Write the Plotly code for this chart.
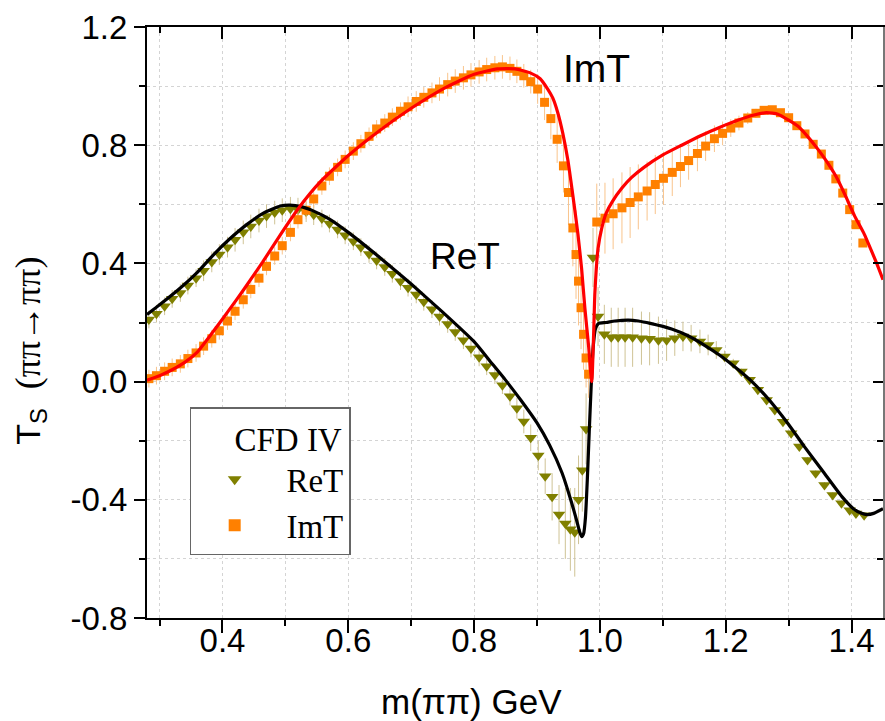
import plotly.graph_objects as go

# ---- fit curves ----
re_fit_x = [0.28, 0.30, 0.333, 0.36, 0.386, 0.41, 0.439, 0.465, 0.492, 0.507, 0.525, 0.545, 0.57, 0.60,
            0.65, 0.70, 0.75, 0.80, 0.825, 0.85, 0.875, 0.90, 0.92, 0.94, 0.955, 0.963, 0.968, 0.971,
            0.974, 0.977, 0.980, 0.983, 0.986, 0.989, 0.993, 0.998, 1.01, 1.024,
            1.045, 1.061, 1.08, 1.114, 1.14, 1.167, 1.19, 1.22, 1.24, 1.262, 1.28, 1.30, 1.325, 1.355,
            1.385, 1.403, 1.415, 1.425, 1.435, 1.45]
re_fit_y = [0.227, 0.26, 0.317, 0.37, 0.43, 0.48, 0.532, 0.57, 0.594, 0.597, 0.592, 0.577, 0.55, 0.505,
            0.42, 0.33, 0.235, 0.135, 0.07, 0.005, -0.065, -0.14, -0.215, -0.31, -0.41, -0.47, -0.51, -0.525,
            -0.515, -0.46, -0.33, -0.17, -0.02, 0.11, 0.18, 0.197, 0.2, 0.205,
            0.208, 0.205, 0.197, 0.178, 0.155, 0.122, 0.09, 0.04, 0.003, -0.045, -0.09, -0.145, -0.22, -0.305,
            -0.39, -0.43, -0.445, -0.45, -0.446, -0.43]

im_fit_x = [0.28, 0.30, 0.32, 0.34, 0.36, 0.382, 0.408, 0.435, 0.464, 0.493, 0.522, 0.555, 0.60, 0.65,
            0.70, 0.75, 0.80, 0.837, 0.865, 0.89, 0.905, 0.917, 0.925, 0.933, 0.941, 0.949, 0.957, 0.965,
            0.971, 0.976, 0.982, 0.987, 0.990, 0.992, 0.997, 1.003, 1.01, 1.02, 1.035, 1.05, 1.07,
            1.10, 1.13, 1.16, 1.19, 1.22, 1.245, 1.265, 1.283, 1.30, 1.315, 1.33, 1.347, 1.362,
            1.378, 1.39, 1.405, 1.42, 1.431, 1.44, 1.45]
im_fit_y = [0.005, 0.02, 0.04, 0.065, 0.10, 0.16, 0.235, 0.315, 0.405, 0.50, 0.59, 0.675, 0.765, 0.85,
            0.925, 0.99, 1.04, 1.058, 1.058, 1.044, 1.025, 0.99, 0.96, 0.91, 0.84, 0.75, 0.63, 0.5,
            0.38, 0.25, 0.12, 0.0, 0.16, 0.30, 0.45, 0.52, 0.57, 0.61, 0.655, 0.69, 0.725,
            0.767, 0.80, 0.832, 0.86, 0.885, 0.902, 0.91, 0.905, 0.885, 0.864, 0.83, 0.785, 0.74,
            0.684, 0.63, 0.56, 0.50, 0.446, 0.40, 0.345]

# ---- CFD IV data points ----
re_x = [0.283, 0.295, 0.308, 0.32, 0.333, 0.345, 0.358, 0.37, 0.383, 0.395, 0.408, 0.42, 0.433, 0.445,
        0.458, 0.47, 0.483, 0.495, 0.508, 0.52, 0.533, 0.545, 0.558, 0.57, 0.583, 0.595, 0.608, 0.62,
        0.633, 0.645, 0.658, 0.67, 0.683, 0.695, 0.708, 0.72, 0.733, 0.745, 0.758, 0.77, 0.783, 0.795,
        0.808, 0.82, 0.833, 0.845, 0.857, 0.868, 0.879, 0.890, 0.902, 0.913, 0.924, 0.935, 0.945,
        0.953, 0.96, 0.966, 0.972, 0.978, 0.989, 0.997, 1.007, 1.018, 1.029, 1.04, 1.052, 1.066,
        1.079, 1.093, 1.106, 1.119, 1.132, 1.145, 1.159, 1.172, 1.185, 1.198, 1.212, 1.225, 1.238,
        1.251, 1.265, 1.278, 1.291, 1.304, 1.317, 1.33, 1.343, 1.357, 1.37, 1.384, 1.397, 1.407, 1.42]
re_y = [0.21, 0.23, 0.255, 0.28, 0.30, 0.325, 0.35, 0.375, 0.405, 0.43, 0.455, 0.48, 0.505, 0.525,
        0.545, 0.56, 0.572, 0.58, 0.585, 0.582, 0.575, 0.565, 0.552, 0.535, 0.515, 0.495, 0.475, 0.455,
        0.432, 0.41, 0.388, 0.365, 0.34, 0.318, 0.295, 0.27, 0.245, 0.22, 0.195, 0.168, 0.14, 0.112,
        0.082, 0.052, 0.022, -0.012, -0.05, -0.09, -0.135, -0.19, -0.25, -0.32, -0.39, -0.45, -0.48,
        -0.50, -0.51, -0.40, -0.30, -0.16, 0.42, 0.22, 0.16, 0.15, 0.15, 0.15, 0.15, 0.147,
        0.145, 0.14, 0.14, 0.147, 0.153, 0.147, 0.136, 0.124, 0.107, 0.085, 0.062, 0.034, 0.006,
        -0.028, -0.062, -0.096, -0.136, -0.175, -0.22, -0.265, -0.31, -0.35, -0.384, -0.412, -0.435, -0.446, -0.452]
re_err = [0.03, 0.03, 0.03, 0.03, 0.03, 0.03, 0.03, 0.035, 0.035, 0.035, 0.035, 0.04, 0.04, 0.04,
          0.04, 0.04, 0.04, 0.04, 0.04, 0.04, 0.035, 0.035, 0.03, 0.03, 0.03, 0.03, 0.03, 0.03,
          0.03, 0.03, 0.03, 0.03, 0.03, 0.03, 0.03, 0.03, 0.03, 0.03, 0.03, 0.03, 0.03, 0.03,
          0.03, 0.03, 0.03, 0.03, 0.03, 0.035, 0.04, 0.045, 0.05, 0.06, 0.08, 0.1, 0.12,
          0.14, 0.15, 0.15, 0.14, 0.12, 0.1, 0.1, 0.1, 0.1, 0.1, 0.1, 0.1, 0.09,
          0.09, 0.08, 0.07, 0.06, 0.05, 0.045, 0.04, 0.035, 0.03, 0.02, 0.015, 0.01, 0.01,
          0.01, 0.01, 0.01, 0.01, 0.01, 0.01, 0.01, 0.01, 0.01, 0.01, 0.01, 0.01, 0.01, 0.01]

im_x = [0.283, 0.295, 0.308, 0.32, 0.333, 0.345, 0.358, 0.37, 0.383, 0.395, 0.408, 0.42, 0.433, 0.445,
        0.458, 0.47, 0.483, 0.495, 0.508, 0.52, 0.533, 0.545, 0.558, 0.57, 0.583, 0.595, 0.608, 0.62,
        0.633, 0.645, 0.658, 0.67, 0.683, 0.695, 0.708, 0.72, 0.733, 0.745, 0.758, 0.77, 0.783, 0.795,
        0.808, 0.82, 0.833, 0.845, 0.857, 0.868, 0.879, 0.890, 0.901, 0.912, 0.922, 0.932, 0.942,
        0.950, 0.957, 0.962, 0.966, 0.970, 0.974, 0.978, 0.982, 0.995, 1.008, 1.021, 1.035, 1.048,
        1.061, 1.075, 1.088, 1.101, 1.115, 1.128, 1.141, 1.155, 1.168, 1.182, 1.195, 1.208, 1.221,
        1.235, 1.248, 1.261, 1.274, 1.287, 1.3, 1.313, 1.326, 1.339, 1.352, 1.364, 1.375, 1.386,
        1.397, 1.407, 1.418]
im_y = [0.01, 0.02, 0.035, 0.048, 0.06, 0.078, 0.097, 0.12, 0.145, 0.172, 0.205, 0.238, 0.277, 0.312,
        0.35, 0.39, 0.425, 0.46, 0.505, 0.548, 0.58, 0.618, 0.662, 0.695, 0.725, 0.752, 0.78, 0.805,
        0.83, 0.855, 0.875, 0.895, 0.915, 0.93, 0.948, 0.962, 0.977, 0.99, 1.005, 1.017, 1.028, 1.038,
        1.048, 1.056, 1.062, 1.065, 1.06, 1.05, 1.035, 1.015, 0.99, 0.945, 0.89, 0.82, 0.73,
        0.64, 0.52, 0.43, 0.34, 0.25, 0.16, 0.08, 0.025, 0.54, 0.553, 0.568, 0.588, 0.606,
        0.625, 0.645, 0.667, 0.688, 0.708, 0.728, 0.748, 0.772, 0.797, 0.822, 0.84, 0.858, 0.875,
        0.892, 0.908, 0.918, 0.92, 0.91, 0.893, 0.866, 0.838, 0.803, 0.77, 0.732, 0.686, 0.638,
        0.582, 0.531, 0.469]
im_err = [0.03, 0.03, 0.03, 0.03, 0.03, 0.03, 0.03, 0.03, 0.03, 0.03, 0.03, 0.03, 0.03, 0.03,
          0.03, 0.03, 0.03, 0.03, 0.03, 0.03, 0.03, 0.03, 0.03, 0.03, 0.03, 0.03, 0.03, 0.03,
          0.03, 0.03, 0.03, 0.03, 0.03, 0.035, 0.035, 0.035, 0.035, 0.04, 0.04, 0.04, 0.04, 0.04,
          0.04, 0.04, 0.04, 0.04, 0.04, 0.04, 0.04, 0.04, 0.05, 0.06, 0.07, 0.08, 0.09,
          0.11, 0.13, 0.15, 0.15, 0.14, 0.12, 0.1, 0.08, 0.13, 0.12, 0.12, 0.12, 0.12,
          0.11, 0.1, 0.1, 0.09, 0.08, 0.07, 0.065, 0.06, 0.05, 0.045, 0.04, 0.03, 0.025,
          0.02, 0.015, 0.01, 0.01, 0.01, 0.01, 0.01, 0.01, 0.01, 0.01, 0.01, 0.01, 0.01,
          0.01, 0.01, 0.01]

x_ticks = [0.4, 0.6, 0.8, 1.0, 1.2, 1.4]
x_ticklabels = ["0.4", "0.6", "0.8", "1.0", "1.2", "1.4"]
y_ticks = [-0.8, -0.4, 0.0, 0.4, 0.8, 1.2]
y_ticklabels = ["-0.8", "-0.4", "0.0", "0.4", "0.8", "1.2"]

X_RANGE = [0.28, 1.45]
Y_RANGE = [-0.8, 1.2]

SANS = "Liberation Sans, Arial, sans-serif"
SERIF = "Liberation Serif, Times New Roman, serif"
GRID = "#d4d4d4"
NB = "\u00a0"

fig = go.Figure()

fig.add_trace(go.Scatter(
    x=re_x, y=re_y, mode="markers", name=NB + "ReT",
    marker=dict(symbol="triangle-down", size=11, color="#808000"),
    error_y=dict(type="data", array=re_err, color="#cfc395", thickness=1, width=0),
))
fig.add_trace(go.Scatter(
    x=im_x, y=im_y, mode="markers", name=NB + "ImT",
    marker=dict(symbol="square", size=9, color="#ff8000"),
    error_y=dict(type="data", array=im_err, color="#f9c48c", thickness=1, width=0),
))
fig.add_trace(go.Scatter(
    x=re_fit_x, y=re_fit_y, mode="lines", showlegend=False,
    line=dict(color="black", width=3.2, shape="spline", smoothing=0.5),
))
fig.add_trace(go.Scatter(
    x=im_fit_x, y=im_fit_y, mode="lines", showlegend=False,
    line=dict(color="#ff0000", width=3.2, shape="spline", smoothing=0.5),
))
# dummy traces to activate the mirror (top/right) axes and the label axis
fig.add_trace(go.Scatter(x=[None], y=[None], xaxis="x2", yaxis="y2",
                         showlegend=False, hoverinfo="skip"))
fig.add_trace(go.Scatter(x=[None], y=[None], xaxis="x3", yaxis="y",
                         showlegend=False, hoverinfo="skip"))

fig.update_layout(
    width=885, height=721,
    margin=dict(l=147, r=2, t=27, b=103),
    paper_bgcolor="white", plot_bgcolor="white",
    showlegend=True,
    xaxis=dict(
        range=X_RANGE, tickvals=x_ticks, showticklabels=False,
        showline=True, linecolor="black", linewidth=2,
        ticks="outside", ticklen=13, tickwidth=2, tickcolor="black",
        showgrid=True, gridcolor=GRID, griddash="dot", gridwidth=1,
        zeroline=False,
        minor=dict(dtick=0.1, tick0=0.0, ticks="outside", ticklen=6, tickwidth=2, tickcolor="black",
                   showgrid=True, gridcolor=GRID, griddash="dot", gridwidth=1),
    ),
    xaxis3=dict(
        range=X_RANGE, overlaying="x", side="bottom", anchor="y",
        tickvals=x_ticks, ticktext=x_ticklabels, ticks="", ticklen=0, showline=False,
        tickfont=dict(family=SANS, size=33, color="black"),
        ticklabelstandoff=0,
        showgrid=False, zeroline=False,
    ),
    yaxis=dict(
        range=Y_RANGE, tickvals=y_ticks, ticktext=y_ticklabels,
        showline=True, linecolor="black", linewidth=2,
        ticks="outside", ticklen=11, tickwidth=2, tickcolor="black",
        tickfont=dict(family=SANS, size=33, color="black"),
        ticklabelstandoff=0,
        showgrid=True, gridcolor=GRID, griddash="dot", gridwidth=1,
        zeroline=False,
        minor=dict(dtick=0.2, tick0=0.0, ticks="outside", ticklen=6, tickwidth=2, tickcolor="black",
                   showgrid=True, gridcolor=GRID, griddash="dot", gridwidth=1),
    ),
    xaxis2=dict(
        range=X_RANGE, overlaying="x", side="top", anchor="y2",
        tickvals=x_ticks, showticklabels=False,
        showline=True, linecolor="black", linewidth=2,
        ticks="inside", ticklen=12, tickwidth=2, tickcolor="black",
        showgrid=False, zeroline=False,
        minor=dict(dtick=0.1, tick0=0.0, ticks="inside", ticklen=6, tickwidth=2, tickcolor="black",
                   showgrid=False),
    ),
    yaxis2=dict(
        range=Y_RANGE, overlaying="y", side="right", anchor="x2",
        tickvals=y_ticks, showticklabels=False,
        showline=True, linecolor="#777777", linewidth=1.5,
        ticks="inside", ticklen=10, tickwidth=2, tickcolor="black",
        showgrid=False, zeroline=False,
        minor=dict(dtick=0.2, tick0=0.0, ticks="inside", ticklen=6, tickwidth=2, tickcolor="black",
                   showgrid=False),
    ),
    legend=dict(
        x=0.058, y=0.357, xanchor="left", yanchor="top",
        bgcolor="white", bordercolor="#666666", borderwidth=1.5,
        font=dict(family=SERIF, size=33, color="black"),
        title=dict(text=NB * 5 + "CFD IV", font=dict(family=SERIF, size=33, color="black")),
        tracegroupgap=0, itemsizing="constant", itemwidth=77,
    ),
    annotations=[
        dict(text="ImT", x=0.994, y=1.06, xref="x", yref="y", showarrow=False,
             font=dict(family=SANS, size=39, color="black"), xanchor="center", yanchor="middle"),
        dict(text="ReT", x=0.786, y=0.425, xref="x", yref="y", showarrow=False,
             font=dict(family=SANS, size=37, color="black"), xanchor="center", yanchor="middle"),
        dict(text="m(ππ) GeV", x=0.441, y=-0.141, xref="paper", yref="paper", showarrow=False,
             font=dict(family=SANS, size=35, color="black"), xanchor="center", yanchor="middle"),
        dict(text="T<sub>S</sub>" + NB * 2 + "<span style='font-family:Liberation Serif;font-size:36px'>(ππ→ππ)</span>",
             x=-0.159, y=0.452, xref="paper", yref="paper", showarrow=False, textangle=-90,
             font=dict(family=SANS, size=34, color="black"), xanchor="center", yanchor="middle"),
    ],
)

fig.write_html("out.html", config={"displayModeBar": False},
               post_script="document.body.style.margin='0';document.body.style.overflow='hidden';")
